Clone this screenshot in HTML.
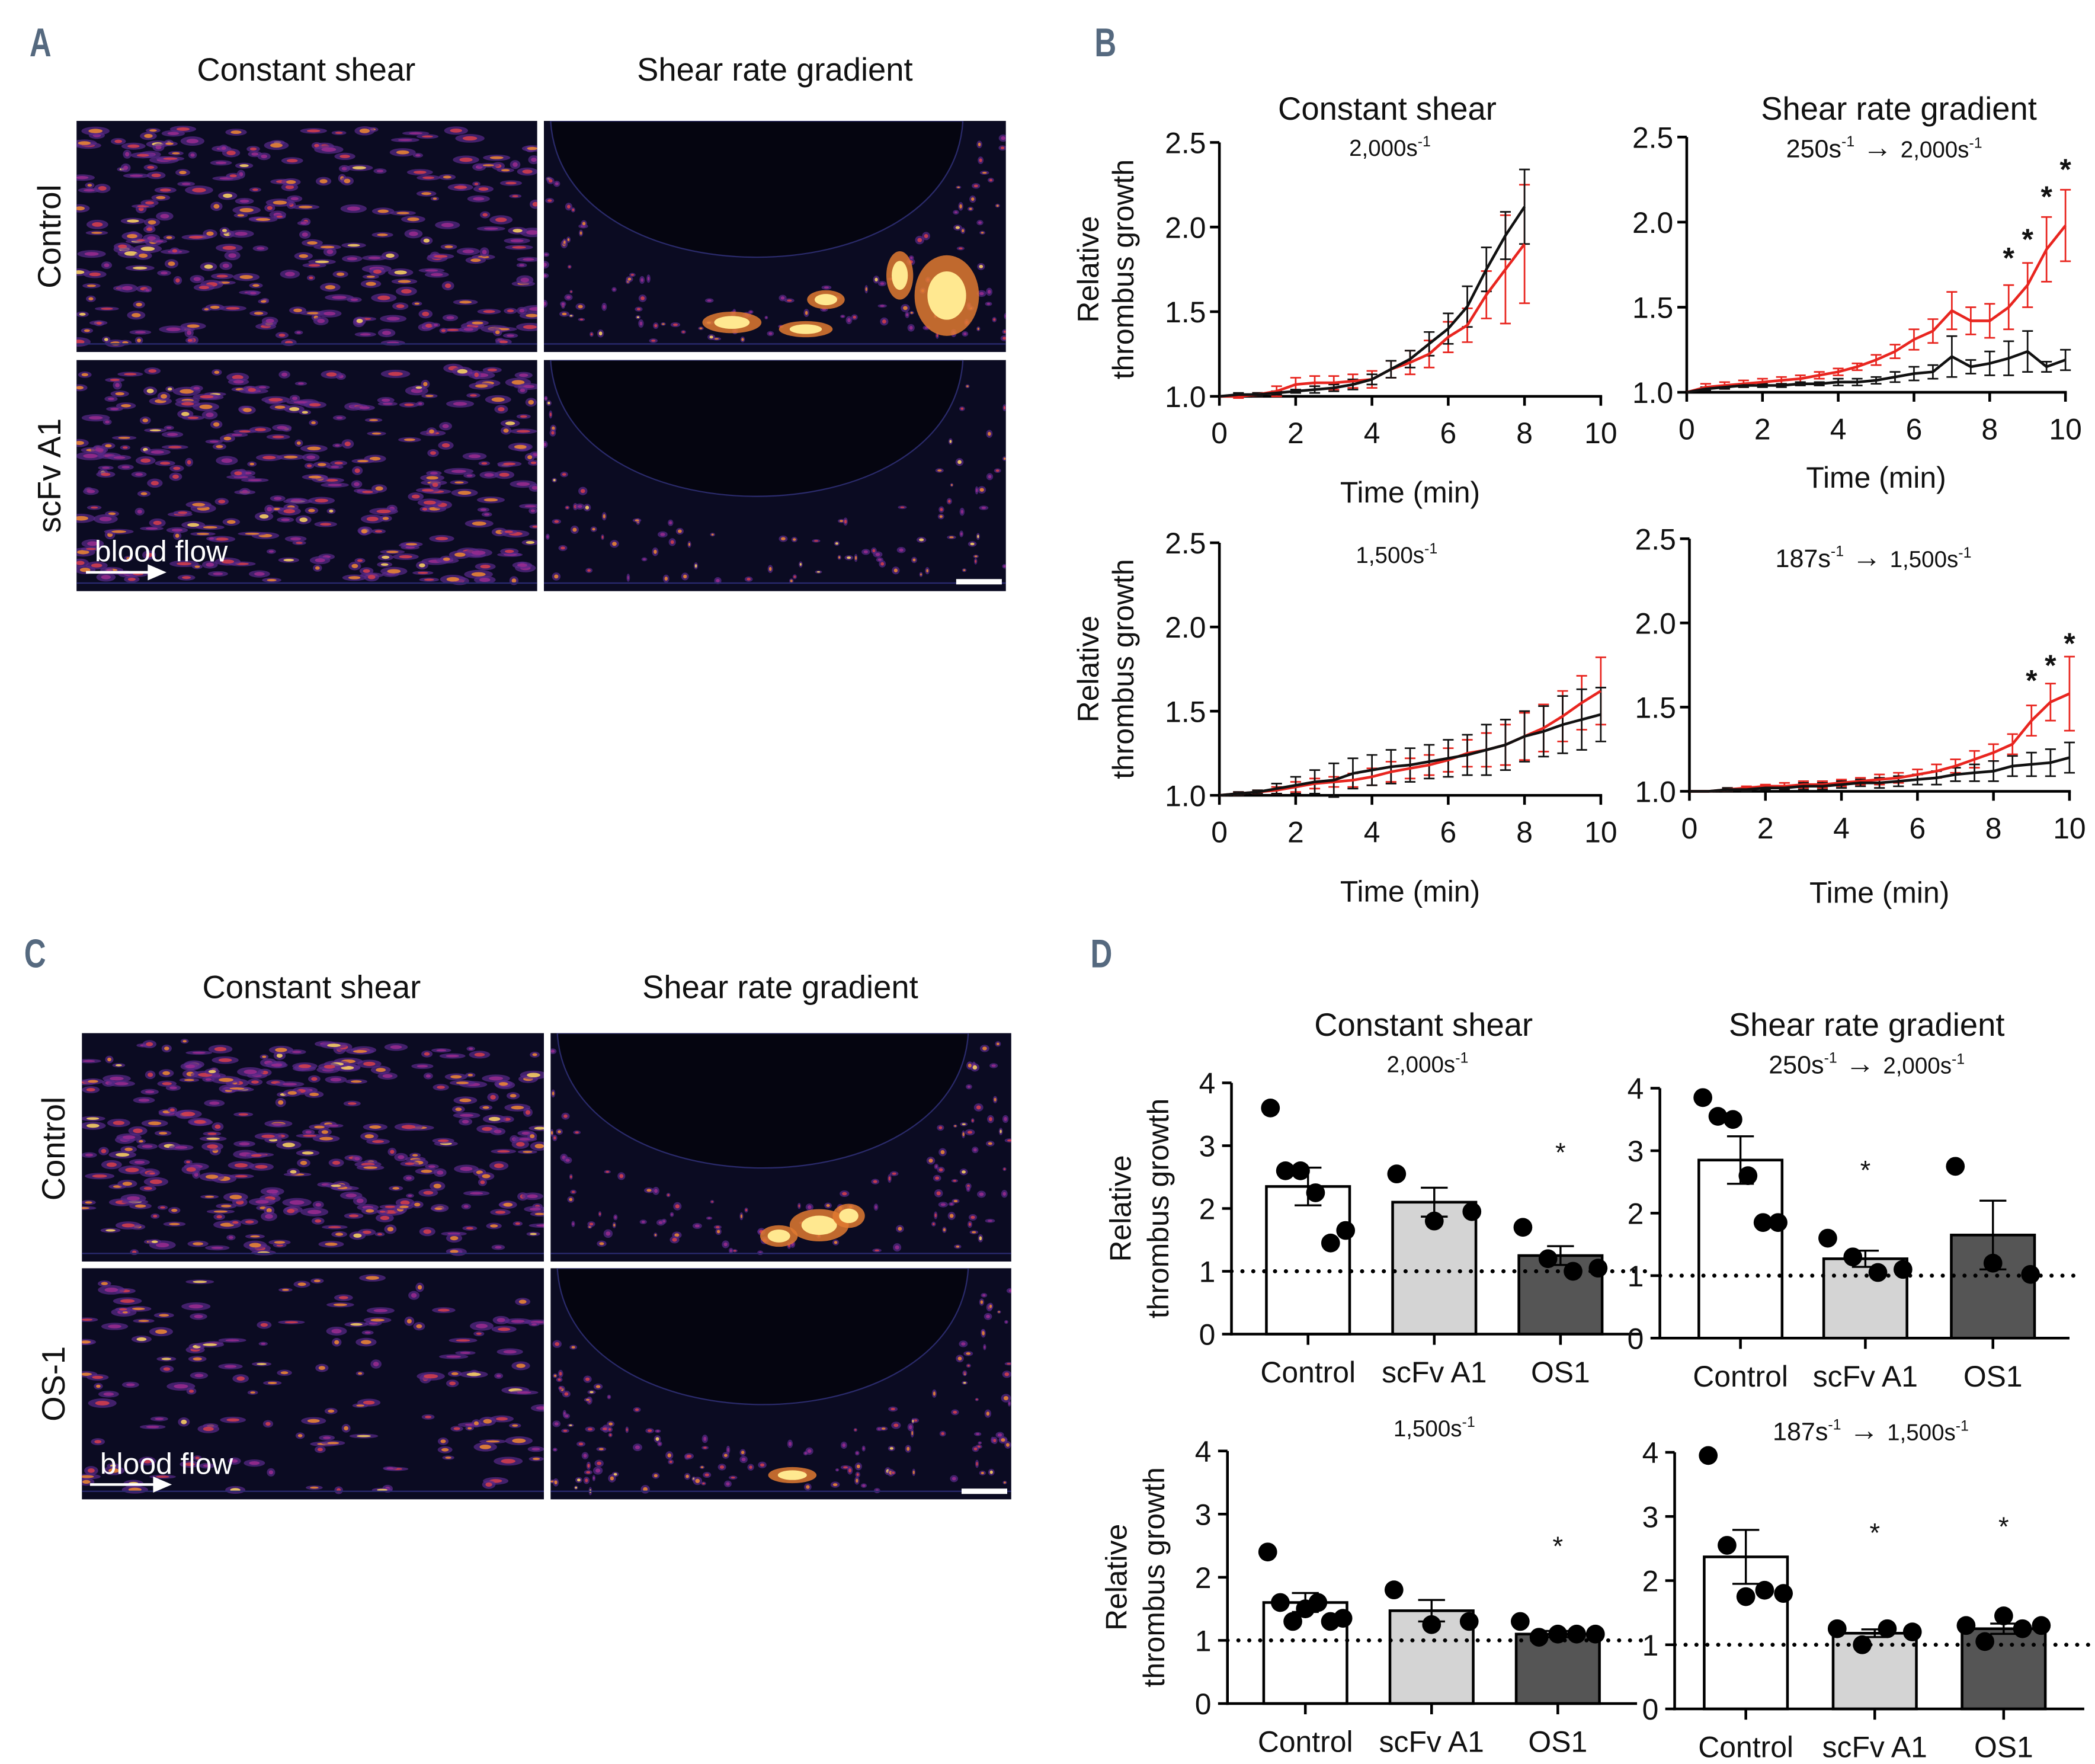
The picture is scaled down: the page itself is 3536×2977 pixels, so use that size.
<!DOCTYPE html>
<html><head><meta charset="utf-8">
<style>
html,body{margin:0;padding:0;background:#fff;}
svg{display:block;}
text{font-family:"Liberation Sans",sans-serif;}
</style></head>
<body>
<svg id="fig" width="3536" height="2977" viewBox="0 0 1560 1313" preserveAspectRatio="none" xmlns="http://www.w3.org/2000/svg">
<rect width="1560" height="1313" fill="#fff"/>
<g id="imgs"></g>
<g id="charts"></g>
</svg>
<script>
// ---------- Panel B line chart data (time points every 0.5 min) ----------
const timesFull = [0,0.5,1,1.5,2,2.5,3,3.5,4,4.5,5,5.5,6,6.5,7,7.5,8,8.5,9,9.5,10];
const xTicks = [0,2,4,6,8,10];
const yTicksLine = [1.0,1.5,2.0,2.5];
const yTickLabelsLine = ["1.0","1.5","2.0","2.5"];

const tlBlack = [1.0,1.01,1.01,1.02,1.03,1.04,1.05,1.07,1.1,1.16,1.22,1.31,1.4,1.53,1.75,1.95,2.12];
const tlBlackErr = [0,0.01,0.01,0.01,0.01,0.02,0.02,0.03,0.03,0.05,0.05,0.07,0.09,0.12,0.13,0.14,0.22];
const tlRed = [1.0,1.0,1.01,1.03,1.07,1.08,1.08,1.09,1.1,1.16,1.2,1.25,1.35,1.42,1.6,1.75,1.9];
const tlRedErr = [0,0.01,0.01,0.03,0.04,0.04,0.04,0.04,0.05,0.05,0.07,0.08,0.09,0.1,0.14,0.32,0.35];

const trBlack = [1.0,1.02,1.03,1.04,1.04,1.04,1.05,1.05,1.06,1.06,1.07,1.09,1.11,1.12,1.21,1.15,1.17,1.2,1.24,1.15,1.19];
const trBlackErr = [0,0.01,0.01,0.01,0.01,0.01,0.01,0.01,0.02,0.02,0.02,0.03,0.04,0.04,0.12,0.04,0.07,0.1,0.12,0.03,0.06];
const trRed = [1.0,1.03,1.04,1.05,1.06,1.07,1.08,1.1,1.12,1.15,1.19,1.24,1.31,1.36,1.48,1.42,1.42,1.5,1.63,1.84,1.98];
const trRedErr = [0,0.02,0.02,0.02,0.02,0.02,0.02,0.02,0.02,0.02,0.03,0.04,0.06,0.07,0.11,0.08,0.1,0.13,0.13,0.19,0.21];
const trStarTimes = [8.5,9,9.5,10];
const trStarValues = [1.84,1.95,2.2,2.36];

const blBlack = [1.0,1.01,1.02,1.04,1.06,1.08,1.09,1.13,1.15,1.17,1.18,1.2,1.22,1.24,1.27,1.3,1.35,1.38,1.42,1.45,1.48];
const blBlackErr = [0,0.01,0.01,0.03,0.05,0.07,0.1,0.09,0.09,0.1,0.1,0.1,0.11,0.12,0.15,0.15,0.15,0.15,0.17,0.18,0.16];
const blRed = [1.0,1.01,1.02,1.03,1.05,1.07,1.08,1.09,1.11,1.14,1.16,1.18,1.21,1.25,1.27,1.3,1.35,1.4,1.47,1.55,1.62];
const blRedErr = [0,0.01,0.01,0.02,0.03,0.03,0.03,0.04,0.05,0.06,0.06,0.06,0.07,0.08,0.1,0.12,0.14,0.14,0.15,0.16,0.2];

const brBlack = [1.0,1.0,1.01,1.01,1.02,1.02,1.03,1.03,1.04,1.05,1.05,1.06,1.07,1.08,1.1,1.11,1.12,1.15,1.16,1.17,1.2];
const brBlackErr = [0,0,0.01,0.01,0.01,0.01,0.02,0.02,0.02,0.02,0.03,0.03,0.03,0.04,0.04,0.05,0.06,0.06,0.07,0.08,0.09];
const brRed = [1.0,1.0,1.01,1.02,1.03,1.03,1.04,1.04,1.05,1.06,1.07,1.08,1.1,1.12,1.15,1.19,1.23,1.28,1.42,1.53,1.58];
const brRedErr = [0,0,0.01,0.01,0.01,0.02,0.02,0.02,0.02,0.02,0.03,0.03,0.03,0.04,0.04,0.05,0.05,0.06,0.09,0.11,0.22];
const brStarTimes = [9,9.5,10];
const brStarValues = [1.71,1.8,1.93];

// ---------- Panel D bar data ----------
const barCategories = ["Control","scFv A1","OS1"];
const yTicksBar = [0,1,2,3,4];
const d1Means = [2.35,2.1,1.25];
const d1Sem = [0.3,0.23,0.15];
const d1Control = [3.6,2.6,2.6,2.25,1.45,1.65];
const d1Scfv = [2.55,1.8,1.95];
const d1Os1 = [1.7,1.2,1.0,1.05];
const d1Stars = [null,null,3.0];

const d2Means = [2.85,1.27,1.65];
const d2Sem = [0.38,0.13,0.55];
const d2Control = [3.85,3.55,3.5,2.6,1.85,1.85];
const d2Scfv = [1.6,1.3,1.05,1.1];
const d2Os1 = [2.75,1.2,1.02];
const d2Stars = [null,2.8,null];

const d3Means = [1.6,1.47,1.1];
const d3Sem = [0.15,0.17,0.05];
const d3Control = [2.4,1.6,1.3,1.5,1.6,1.3,1.35];
const d3Scfv = [1.8,1.25,1.3];
const d3Os1 = [1.3,1.05,1.1,1.1,1.1];
const d3Stars = [null,null,2.6];

const d4Means = [2.37,1.18,1.25];
const d4Sem = [0.42,0.06,0.08];
const d4Control = [3.95,2.55,1.75,1.85,1.8];
const d4Scfv = [1.25,1.0,1.25,1.2];
const d4Os1 = [1.3,1.05,1.45,1.25,1.3];
const d4Stars = [null,2.85,2.95];

const NS = "http://www.w3.org/2000/svg";
const charts = document.getElementById('charts');
const imgs = document.getElementById('imgs');
function el(tag, attrs, parent){ const e=document.createElementNS(NS,tag); for(const k in attrs) e.setAttribute(k,attrs[k]); (parent||charts).appendChild(e); return e; }
function txt(s, x, y, size, opts, parent){ opts=opts||{}; const t=el('text',{x:x,y:y,'font-size':size,'text-anchor':opts.anchor||'middle',fill:opts.fill||'#111','font-weight':opts.weight||'normal'},parent); if(opts.transform) t.setAttribute('transform',opts.transform); t.textContent=s; return t; }

// ---------- panel letters ----------
[["A",22,42],["B",815,42],["C",18,720],["D",812,720]].forEach(function(p){
  const t=txt(p[0],p[1],p[2],30,{anchor:'start',fill:'#55697f',weight:'bold',transform:'translate('+p[1]+' '+p[2]+') scale(0.75 1) translate('+(-p[1])+' '+(-p[2])+')'});
  
  
});

// ---------- microscopy images ----------
function rng(seed){ return function(){ seed|=0; seed=seed+0x6D2B79F5|0; let t=Math.imul(seed^seed>>>15,1|seed); t=t+Math.imul(t^t>>>7,61|t)^t; return ((t^t>>>14)>>>0)/4294967296; }; }
function microImage(name, x, y, w, h, type, density, seed, hotspot){
  const g=el('g',{},imgs);
  
  
  el('rect',{x:x,y:y,width:w,height:h,fill:'#0b0b22'},g);
  const r=rng(seed);
  const cols=['#5a2a8a','#9a2c8e','#d8404a','#f08a30','#ffd860'];
  let inside=function(){return false;};
  if(type==='grad'){
    const lx=x+5, rx=x+w-32, by=y+h*0.74, cx=(lx+rx)/2, hw=(rx-lx)/2, hd=by-y;
    inside=function(px,py){ const dx=(px-cx)/hw; const dy=(py-y)/hd; return dx*dx+dy*dy<1.05; };
  }
  const clip='c'+seed;
  const cp=el('clipPath',{id:clip},g); el('rect',{x:x,y:y,width:w,height:h},cp);
  const gg=el('g',{'clip-path':'url(#'+clip+')'},g);
  for(let i=0;i<density;i++){
    const px=x+r()*w, py=y+6+r()*(h-12);
    if(inside(px,py)) continue;
    const s=r();
    let rxx, ryy;
    if(type==='const'){ rxx=3+s*8; ryy=1.5+r()*2; } else { rxx=1.2+s*2.5; ryy=1.2+r()*2; }
    el('ellipse',{cx:px.toFixed(1),cy:py.toFixed(1),rx:rxx.toFixed(1),ry:ryy.toFixed(1),fill:cols[0],opacity:0.7},gg);
    const lvl=Math.floor(r()*3.3)+1;
    el('ellipse',{cx:px.toFixed(1),cy:py.toFixed(1),rx:(rxx*0.5).toFixed(1),ry:(ryy*0.5).toFixed(1),fill:cols[Math.min(lvl,4)],opacity:0.85},gg);
  }
  if(hotspot){ hotspot.forEach(function(hs){
    el('ellipse',{cx:hs[0],cy:hs[1],rx:hs[2],ry:hs[3],fill:'#e07a30',opacity:0.85},gg);
    el('ellipse',{cx:hs[0],cy:hs[1],rx:hs[2]*0.6,ry:hs[3]*0.6,fill:'#ffe890'},gg);
  });}
  if(type==='grad'){
    const lx=x+5, rx=x+w-32, by=y+h*0.74;
    el('path',{d:'M'+lx+' '+y+' C '+(lx+8)+' '+(by+8)+', '+(rx-8)+' '+(by+8)+', '+rx+' '+y+' Z',fill:'#050510',stroke:'#2a2a6a','stroke-width':1},gg);
  }
  el('line',{x1:x,y1:y+h-6,x2:x+w,y2:y+h-6,stroke:'#2a2a70','stroke-width':1},gg);
}
txt("Constant shear",228,60,24,{});
txt("Shear rate gradient",577,60,24,{});
microImage('a-control-constant',57,90,343,172,'const',300,11);
microImage('a-control-gradient',405,90,344,172,'grad',300,12,[[545,240,22,8],[615,223,14,7],[705,220,24,30],[670,205,10,18],[600,245,20,6]]);
microImage('a-scfv-constant',57,268,343,172,'const',320,13);
microImage('a-scfv-gradient',405,268,344,172,'grad',220,14);
txt("Control",45,176,24,{transform:'rotate(-90 45 176)'});
txt("scFv A1",45,354,24,{transform:'rotate(-90 45 354)'});
txt("blood flow",120,418,22,{fill:'#fff'});
el('line',{x1:64,y1:426,x2:112,y2:426,stroke:'#fff','stroke-width':2});
el('path',{d:'M110 420 L124 426 L110 432 Z',fill:'#fff'});
el('rect',{x:712,y:431,width:34,height:4,fill:'#fff'});
txt("Constant shear",232,743,24,{});
txt("Shear rate gradient",581,743,24,{});
microImage('c-control-constant',61,769,344,170,'const',320,21);
microImage('c-control-gradient',410,769,343,170,'grad',260,22,[[610,912,22,12],[632,905,12,9],[580,920,14,8]]);
microImage('c-os1-constant',61,944,344,172,'const',150,23);
microImage('c-os1-gradient',410,944,343,172,'grad',320,24,[[590,1098,18,6]]);
txt("Control",48,855,24,{transform:'rotate(-90 48 855)'});
txt("OS-1",48,1030,24,{transform:'rotate(-90 48 1030)'});
txt("blood flow",124,1097,22,{fill:'#fff'});
el('line',{x1:67,y1:1105,x2:116,y2:1105,stroke:'#fff','stroke-width':2});
el('path',{d:'M114 1099 L128 1105 L114 1111 Z',fill:'#fff'});
el('rect',{x:716,y:1108,width:34,height:4,fill:'#fff'});

// ---------- line charts ----------
function lineChart(name, x0, x1, yBase, yTop, series, stars, sub, yLabel, xLabelY){
  const g=el('g',{});  
  const X=function(t){return x0+(x1-x0)*t/10;};
  const Y=function(v){return yBase-(yBase-yTop)*(v-1.0)/1.5;};
  el('line',{x1:x0,y1:yTop,x2:x0,y2:yBase+1,stroke:'#000','stroke-width':2},g);
  el('line',{x1:x0-1,y1:yBase,x2:x1+1,y2:yBase,stroke:'#000','stroke-width':2},g);
  yTicksLine.forEach(function(v,i){
    el('line',{x1:x0-7,y1:Y(v),x2:x0,y2:Y(v),stroke:'#000','stroke-width':2},g);
    const t=txt(yTickLabelsLine[i],x0-10,Y(v)+8,22,{anchor:'end'},g);
     
  });
  xTicks.forEach(function(v){
    el('line',{x1:X(v),y1:yBase,x2:X(v),y2:yBase+7,stroke:'#000','stroke-width':2},g);
    const t=txt(String(v),X(v),yBase+35,22,{},g);
     
  });
  const xt=txt("Time (min)",(x0+x1)/2,xLabelY,22,{},g);  
  if(yLabel){
    const lx=x0-90, ly=(yBase+yTop)/2;
    const a=txt("Relative",lx,ly,22,{transform:'rotate(-90 '+lx+' '+ly+')'},g);  
    const b=txt("thrombus growth",lx+26,ly,22,{transform:'rotate(-90 '+(lx+26)+' '+ly+')'},g);  
  }
  sub(g);
  series.forEach(function(s){
    const vals=s[0], errs=s[1], col=s[2];
    for(let i=0;i<vals.length;i++){
      if(errs[i]<=0) continue;
      const x=X(timesFull[i]);
      el('line',{x1:x,y1:Y(vals[i]-errs[i]),x2:x,y2:Y(vals[i]+errs[i]),stroke:col,'stroke-width':1.2},g);
      el('line',{x1:x-4,y1:Y(vals[i]+errs[i]),x2:x+4,y2:Y(vals[i]+errs[i]),stroke:col,'stroke-width':1.2},g);
      el('line',{x1:x-4,y1:Y(vals[i]-errs[i]),x2:x+4,y2:Y(vals[i]-errs[i]),stroke:col,'stroke-width':1.2},g);
    }
  });
  series.forEach(function(s){
    const vals=s[0], col=s[2];
    const pts=vals.map(function(v,i){return X(timesFull[i]).toFixed(1)+','+Y(v).toFixed(1);}).join(' ');
    const p=el('polyline',{points:pts,fill:'none',stroke:col,'stroke-width':2},g);
     
  });
  if(stars){ stars[0].forEach(function(t,i){
    const st=txt("*",X(t),Y(stars[1][i])+14,22,{weight:'bold'},g);  
  });}
}
function supLabel(g,parts){
  const t=el('text',{x:parts[0],y:parts[1],'font-size':17,'text-anchor':'middle',fill:'#111'},g);
  parts[2].forEach(function(p){ const ts=el('tspan',{},t); if(p[1]) { ts.setAttribute('font-size',11); ts.setAttribute('dy',-7);} else if(p[2]) {ts.setAttribute('dy',7);} ts.textContent=p[0]; });
   
}
function arrowLabel(g,x,y,a,b){
  const t=el('text',{x:x,y:y,'font-size':19,'text-anchor':'middle',fill:'#111'},g);
  const t1=el('tspan',{},t); t1.textContent=a;
  const t2=el('tspan',{'font-size':11,dy:-8},t); t2.textContent="-1";
  const t3=el('tspan',{'font-size':22,dy:8},t); t3.textContent=" \u2192 ";
  const t4=el('tspan',{'font-size':17},t); t4.textContent=b;
  const t5=el('tspan',{'font-size':11,dy:-7},t); t5.textContent="-1";
   
}
txt("Constant shear",1033,89,24,{});
txt("Shear rate gradient",1414,89,24,{});
lineChart('b-chart-constant-2000',908,1192,295,106,[[tlRed,tlRedErr,'#e8251f','red-series'],[tlBlack,tlBlackErr,'#111','black-series']],null,function(g){supLabel(g,[1035,116,[["2,000s"],["-1",true]]]);},true,374);
lineChart('b-chart-gradient-2000',1256,1538,292,102,[[trRed,trRedErr,'#e8251f','red-series'],[trBlack,trBlackErr,'#111','black-series']],[trStarTimes,trStarValues],function(g){arrowLabel(g,1403,117,"250s","2,000s");},false,363);
lineChart('b-chart-constant-1500',908,1192,592,404,[[blRed,blRedErr,'#e8251f','red-series'],[blBlack,blBlackErr,'#111','black-series']],null,function(g){supLabel(g,[1040,419,[["1,500s"],["-1",true]]]);},true,671);
lineChart('b-chart-gradient-1500',1258,1541,589,401,[[brRed,brRedErr,'#e8251f','red-series'],[brBlack,brBlackErr,'#111','black-series']],[brStarTimes,brStarValues],function(g){arrowLabel(g,1395,422,"187s","1,500s");},false,672);

// ---------- bar charts ----------
const barFills=['#ffffff','#d4d4d4','#555555'];
function barChart(name, x0, yBase, yTop, centers, means, sems, pointsArr, stars, yLabel, sub){
  const g=el('g',{});  
  const Y=function(v){return yBase-(yBase-yTop)*v/4;};
  const bw=62;
  means.forEach(function(m,i){
    const r=el('rect',{x:centers[i]-bw/2,y:Y(m),width:bw,height:yBase-Y(m),fill:barFills[i],stroke:'#000','stroke-width':2},g);
     
  });
  el('line',{x1:x0,y1:Y(1),x2:x0+310,y2:Y(1),stroke:'#000','stroke-width':3,'stroke-dasharray':'0.1 8','stroke-linecap':'round'},g);
  means.forEach(function(m,i){
    const c=centers[i];
    el('line',{x1:c,y1:Y(m-sems[i]),x2:c,y2:Y(m+sems[i]),stroke:'#000','stroke-width':1.5},g);
    el('line',{x1:c-10,y1:Y(m+sems[i]),x2:c+10,y2:Y(m+sems[i]),stroke:'#000','stroke-width':1.5},g);
    el('line',{x1:c-10,y1:Y(m-sems[i]),x2:c+10,y2:Y(m-sems[i]),stroke:'#000','stroke-width':1.5},g);
    const pts=pointsArr[i], n=pts.length;
    pts.forEach(function(v,j){
      const off=n>1?(-28+56*j/(n-1)):0;
      const c2=el('circle',{cx:c+off,cy:Y(v),r:7,fill:'#000'},g);
       
    });
    if(stars[i]!==null){ const st=txt("*",c,Y(stars[i])+12,20,{},g);   }
  });
  el('line',{x1:x0,y1:yTop,x2:x0,y2:yBase+1,stroke:'#000','stroke-width':2},g);
  el('line',{x1:x0-1,y1:yBase,x2:x0+305,y2:yBase,stroke:'#000','stroke-width':2},g);
  yTicksBar.forEach(function(v){
    el('line',{x1:x0-7,y1:Y(v),x2:x0,y2:Y(v),stroke:'#000','stroke-width':2},g);
    const t=txt(String(v),x0-12,Y(v)+8,22,{anchor:'end'},g);  
  });
  centers.forEach(function(c,i){
    el('line',{x1:c,y1:yBase,x2:c,y2:yBase+8,stroke:'#000','stroke-width':2},g);
    const t=txt(barCategories[i],c,yBase+36,22,{},g);  
  });
  if(yLabel){
    const lx=x0-75, ly=(yBase+yTop)/2;
    const a=txt("Relative",lx,ly,22,{transform:'rotate(-90 '+lx+' '+ly+')'},g);  
    const b=txt("thrombus growth",lx+28,ly,22,{transform:'rotate(-90 '+(lx+28)+' '+ly+')'},g);  
  }
  sub(g);
}
txt("Constant shear",1060,771,24,{});
txt("Shear rate gradient",1390,771,24,{});
barChart('d-chart-constant-2000',917,993,806,[974,1068,1162],d1Means,d1Sem,[d1Control,d1Scfv,d1Os1],d1Stars,true,function(g){supLabel(g,[1063,798,[["2,000s"],["-1",true]]]);});
barChart('d-chart-gradient-2000',1236,996,810,[1296,1389,1484],d2Means,d2Sem,[d2Control,d2Scfv,d2Os1],d2Stars,false,function(g){arrowLabel(g,1390,799,"250s","2,000s");});
barChart('d-chart-constant-1500',914,1268,1080,[972,1066,1160],d3Means,d3Sem,[d3Control,d3Scfv,d3Os1],d3Stars,true,function(g){supLabel(g,[1068,1069,[["1,500s"],["-1",true]]]);});
barChart('d-chart-gradient-1500',1247,1272,1081,[1300,1396,1492],d4Means,d4Sem,[d4Control,d4Scfv,d4Os1],d4Stars,false,function(g){arrowLabel(g,1393,1072,"187s","1,500s");});
</script>
</body></html>
